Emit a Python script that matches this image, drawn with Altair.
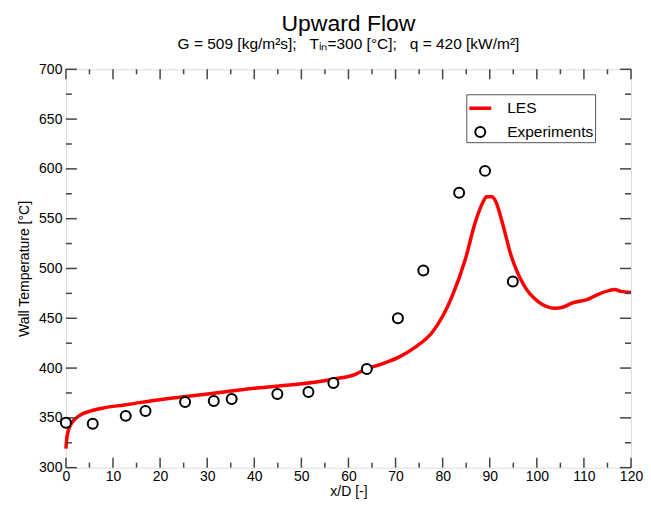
import altair as alt
import pandas as pd

# ---------------- data ----------------
les_x = [0, 0.2, 0.5, 1, 2, 3.5, 5.3, 8, 12.4, 19.4, 26.4, 33.5, 40.5, 47.5, 53.2,
         57, 61.6, 63.7, 67, 70.7, 74.2, 77.8, 80, 82, 84.8, 86.9, 88.5, 89.3, 90.4,
         91.3, 92.5, 94.6, 97.4, 100.2, 102, 103.8, 105.5, 107.3, 110.8, 113, 115.5,
         116.5, 117.8, 120]
les_y = [319, 330, 337, 343, 349, 354, 357, 360, 363, 368, 372, 376, 380, 383, 386,
         389, 394, 399, 404, 411, 421, 436, 452, 472, 509, 546, 566, 572, 572,
         567, 549, 512, 482, 467, 462, 460, 461, 465, 469, 474, 478,
         479, 477, 476]

exp_x = [0, 5.7, 12.7, 16.9, 25.3, 31.4, 35.2, 44.9, 51.5, 56.8, 63.9, 70.5, 75.9,
         83.5, 89.0, 94.9]
exp_y = [345, 344, 352, 357, 366, 367, 369, 374, 376, 385, 399, 450, 498, 576, 598, 487]

series_names = ["LES", "Experiments"]
series_colors = ["#ff0000", "#000000"]
series_shapes = ["stroke", "circle"]
series_sizes = [484, 100]
series_widths = [3.5, 2]

x_major = list(range(0, 121, 10))
x_minor = list(range(5, 120, 10))
y_major = list(range(300, 701, 50))
y_minor = list(range(325, 700, 50))

title_text = "Upward Flow"
subtitle_text = "G = 509 [kg/m\u00b2s];\u00a0\u00a0\u00a0T\u1d62\u2099=300 [\u00b0C];\u00a0\u00a0\u00a0q = 420 [kW/m\u00b2]"

# ---------------- styling ----------------
W, H = 566, 399
FONT = "Liberation Sans"
TICK = "#444444"
FS = 14

les_df = pd.DataFrame({"x": les_x, "y": les_y})
exp_df = pd.DataFrame({"x": exp_x, "y": exp_y, "series": ["Experiments"] * len(exp_x)})

xscale = alt.Scale(domain=[0, 120], nice=False, zero=False)
yscale = alt.Scale(domain=[300, 700], nice=False, zero=False)

xaxis = alt.Axis(values=x_major, ticks=False, domain=False, grid=False,
                 labelFont=FONT, labelFontSize=FS, labelColor="black", labelPadding=2,
                 labelFlush=False, title="x/D [-]", titleFont=FONT, titleFontSize=FS,
                 titleFontWeight="normal", titleColor="black", titlePadding=1)
yaxis = alt.Axis(values=y_major, ticks=False, domain=False, grid=False,
                 labelFont=FONT, labelFontSize=FS, labelColor="black", labelPadding=4,
                 title="Wall Temperature [\u00b0C]", titleFont=FONT, titleFontSize=FS,
                 titleFontWeight="normal", titleColor="black", titlePadding=7)

line = alt.Chart(les_df).mark_line(color="#ff0000", strokeWidth=3.5, interpolate="monotone").encode(
    x=alt.X("x:Q", scale=xscale, axis=xaxis),
    y=alt.Y("y:Q", scale=yscale, axis=yaxis),
)


def make_legend():
    return alt.Legend(
        title=None, orient="none", legendX=401, legendY=25,
        labelFont=FONT, labelFontSize=15.5, labelColor="black", labelOffset=14,
        strokeColor="#555555", fillColor="white", padding=1, rowPadding=5,
    )


points = alt.Chart(exp_df).mark_point(filled=True, fill="white", opacity=1).encode(
    x=alt.X("x:Q", scale=xscale, axis=xaxis),
    y=alt.Y("y:Q", scale=yscale, axis=yaxis),
    stroke=alt.Stroke("series:N", scale=alt.Scale(domain=series_names, range=series_colors),
                      legend=make_legend()),
    shape=alt.Shape("series:N", scale=alt.Scale(domain=series_names, range=series_shapes),
                    legend=make_legend()),
    size=alt.Size("series:N", scale=alt.Scale(domain=series_names, range=series_sizes),
                  legend=make_legend()),
    strokeWidth=alt.StrokeWidth("series:N",
                                scale=alt.Scale(domain=series_names, range=series_widths),
                                legend=make_legend()),
)


def yticks(vals, x0, x1):
    return alt.Chart(pd.DataFrame({"v": vals})).mark_rule(color=TICK, strokeWidth=1.5).encode(
        y=alt.Y("v:Q", scale=yscale, axis=yaxis), x=alt.value(x0), x2=alt.value(x1))


def xticks(vals, y0, y1):
    return alt.Chart(pd.DataFrame({"v": vals})).mark_rule(color=TICK, strokeWidth=1.5).encode(
        x=alt.X("v:Q", scale=xscale, axis=xaxis), y=alt.value(y0), y2=alt.value(y1))


ticks = [
    yticks(y_major, 0, 11), yticks(y_minor, 0, 6),
    yticks(y_major, W, W - 11), yticks(y_minor, W, W - 6),
    xticks(x_major, H, H - 10), xticks(x_minor, H, H - 5),
    xticks(x_major, 0, 10), xticks(x_minor, 0, 5),
]

chart = alt.layer(line, *ticks, points).properties(
    width=W, height=H,
    padding={"left": 9, "top": 4, "right": 0, "bottom": 0},
    title=alt.TitleParams(text=title_text, subtitle=subtitle_text, font=FONT, fontSize=23,
                          fontWeight="normal", color="black", subtitleFont=FONT,
                          subtitleFontSize=15.5, subtitleColor="black", anchor="middle",
                          frame="group", offset=10, subtitlePadding=1),
).configure_view(stroke="black", strokeWidth=2).configure(background="white")

chart.save("out.html", embed_options={"renderer": "svg", "actions": False})
